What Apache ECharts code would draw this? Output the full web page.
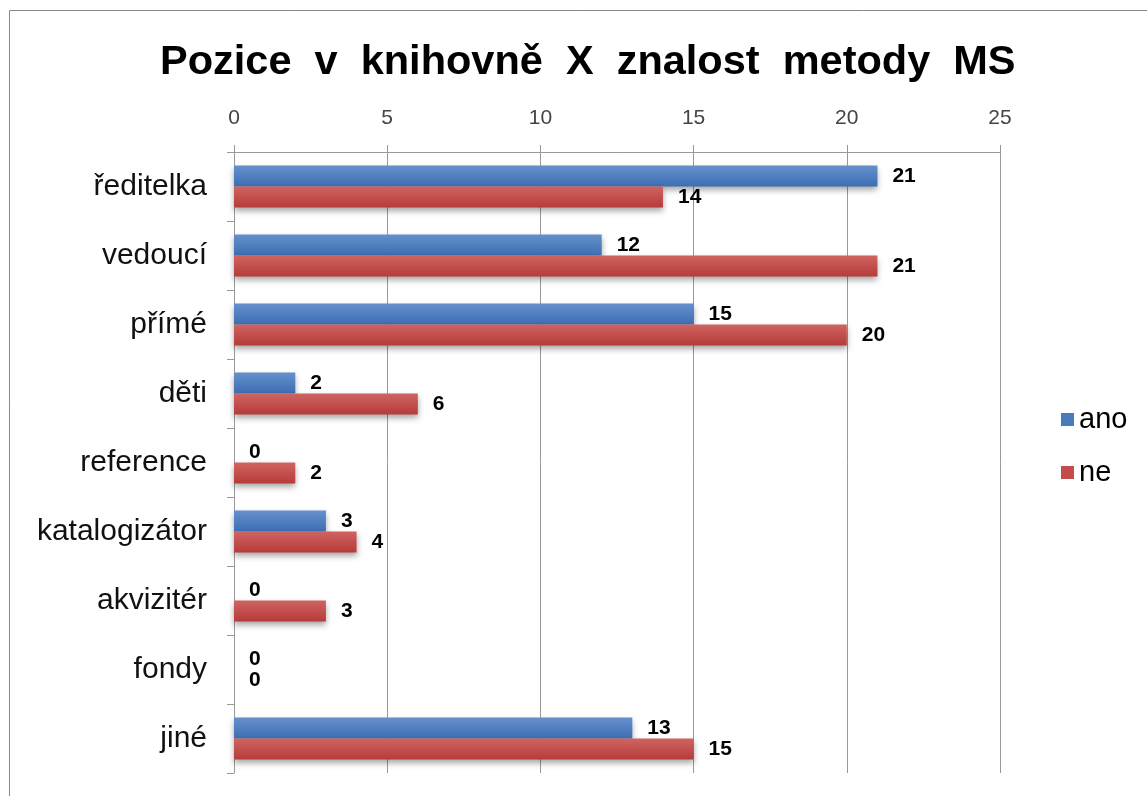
<!DOCTYPE html>
<html>
<head>
<meta charset="utf-8">
<script src="https://cdn.jsdelivr.net/npm/echarts@6/dist/echarts.min.js"></script>
<style>
  html, body { margin: 0; padding: 0; background: #fff; }
  #chart { width: 1147px; height: 796px; }
</style>
</head>
<body>
<div id="chart"></div>
<script>
// data
const categories = ["ředitelka", "vedoucí", "přímé", "děti", "reference", "katalogizátor", "akvizitér", "fondy", "jiné"];
const ano = [21, 12, 15, 2, 0, 3, 0, 0, 13];
const ne = [14, 21, 20, 6, 2, 4, 3, 0, 15];
const xTicks = [0, 5, 10, 15, 20, 25];

const chart = echarts.init(document.getElementById("chart"));

function grad(top, bottom) {
  return new echarts.graphic.LinearGradient(0, 0, 0, 1, [
    { offset: 0, color: top },
    { offset: 1, color: bottom }
  ]);
}

const labelStyle = {
  show: true,
  position: "right",
  distance: 15,
  fontFamily: "Liberation Sans, Arial, sans-serif",
  fontWeight: "bold",
  fontSize: 21,
  color: "#000"
};

chart.setOption({
  animation: false,
  backgroundColor: "#fff",
  graphic: [{
    type: "rect",
    shape: { x: 9.5, y: 10.5, width: 1160, height: 800 },
    style: { fill: null, stroke: "#888", lineWidth: 1 },
    silent: true
  }],
  title: {
    text: "Pozice  v  knihovně  X  znalost  metody  MS",
    left: 155,
    top: 37,
    textStyle: {
      fontFamily: "Liberation Sans, Arial, sans-serif",
      fontWeight: "bold",
      fontSize: 41.5,
      color: "#000"
    }
  },
  legend: {
    orient: "vertical",
    left: 1056,
    top: 400,
    itemWidth: 13,
    itemHeight: 13,
    itemGap: 24,
    icon: "rect",
    textStyle: {
      fontFamily: "Liberation Sans, Arial, sans-serif",
      fontSize: 29,
      color: "#000"
    },
    data: [
      { name: "ano", itemStyle: { color: "#4a7bbf" } },
      { name: "ne", itemStyle: { color: "#c44d4b" } }
    ]
  },
  grid: { left: 234, right: 147, top: 152, bottom: 23 },
  xAxis: {
    type: "value",
    position: "top",
    min: xTicks[0],
    max: xTicks[xTicks.length - 1],
    interval: 5,
    axisLine: { show: true, lineStyle: { color: "#999", width: 1 } },
    axisTick: { show: true, length: 7, lineStyle: { color: "#999" } },
    splitLine: { show: true, lineStyle: { color: "#999", width: 1 } },
    axisLabel: {
      margin: 23,
      fontFamily: "Liberation Sans, Arial, sans-serif",
      fontSize: 21,
      color: "#444"
    }
  },
  yAxis: {
    type: "category",
    inverse: true,
    data: categories,
    axisLine: { show: true, lineStyle: { color: "#999", width: 1 } },
    axisTick: { show: true, length: 7, lineStyle: { color: "#999" } },
    axisLabel: {
      margin: 27,
      fontFamily: "Liberation Sans, Arial, sans-serif",
      fontSize: 30,
      color: "#111"
    }
  },
  series: [
    {
      name: "ano",
      type: "bar",
      data: ano,
      barWidth: 21,
      barGap: "0%",
      itemStyle: {
        color: grad("#6690cc", "#3d6eb3"),
        shadowColor: "rgba(0,0,0,0.35)",
        shadowBlur: 6,
        shadowOffsetY: 3
      },
      label: labelStyle
    },
    {
      name: "ne",
      type: "bar",
      data: ne,
      barWidth: 21,
      barGap: "0%",
      itemStyle: {
        color: grad("#cf6462", "#b63b39"),
        shadowColor: "rgba(0,0,0,0.35)",
        shadowBlur: 6,
        shadowOffsetY: 3
      },
      label: labelStyle
    }
  ]
});
</script>
</body>
</html>
